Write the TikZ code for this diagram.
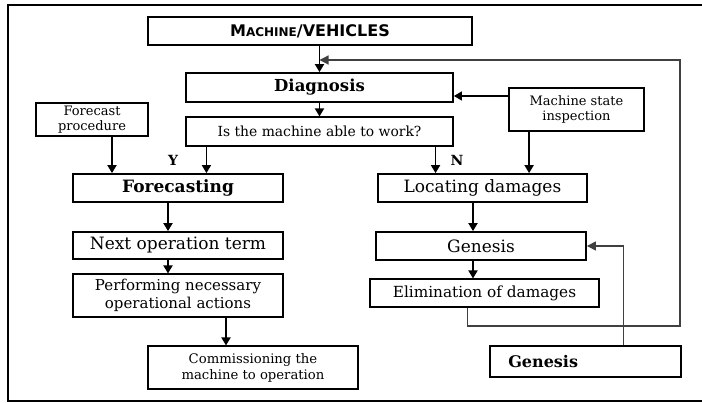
\documentclass[tikz,border=0pt]{standalone}
\usepackage{fontspec}
\setmainfont{DejaVu Serif}
\newfontfamily\titlefont{DejaVu Sans}
\usetikzlibrary{arrows.meta}
\newcommand{\fs}[1]{\fontsize{#1}{#1}\selectfont}
\begin{document}
\begin{tikzpicture}[x=1pt,y=-1pt,
  box/.style={draw,line width=1.8pt,inner sep=0pt,align=center,minimum width=#1},
  lbox/.style={draw,line width=1.1pt,inner sep=0pt,align=center,minimum width=#1},
  arr/.style={line width=1.8pt,-{Triangle[width=9pt,length=8pt]}},
  fb/.style={line width=1.2pt,draw=black!75},
  fbarr/.style={fb,-{Triangle[width=9pt,length=9pt]}},
  yn/.style={font=\fs{14}\bfseries,inner sep=0pt}]
\useasboundingbox (0,0) rectangle (702,403);
% frame
\draw[line width=2.4pt] (702,5) -- (8,5) -- (8,401) -- (702,401);

% boxes
\node[box=324pt,minimum height=28pt,font=\titlefont\bfseries\fs{16}] (mv) at (310,31)
  {M{\fs{12}ACHINE}/VEHICLES};
\node[box=267pt,minimum height=29pt,font=\fs{16.5}\bfseries] (diag) at (319.5,87.5)
  {Diagnosis};
\node[lbox=267pt,minimum height=29pt,font=\fs{13.9}] (able) at (319.5,131.5)
  {Is the machine able to work?};
\node[box=112pt,minimum height=33pt,font=\fs{13},align=center] (fproc) at (92,119.5)
  {Forecast\\[2pt]procedure};
\node[box=135pt,minimum height=43pt,font=\fs{13}] (msi) at (576.5,109.5)
  {Machine state\\[2pt]inspection};
\node[box=210pt,minimum height=28pt,font=\fs{17}\bfseries] (fcast) at (178,188)
  {Forecasting};
\node[box=209pt,minimum height=28pt,font=\fs{17}] (locate) at (482.5,188)
  {Locating damages};
\node[box=210pt,minimum height=27pt,font=\fs{17}] (next) at (178,245.5)
  {Next operation term};
\node[lbox=210pt,minimum height=43pt,font=\fs{15}] (perf) at (178,295.5)
  {Performing necessary\\[3pt]operational actions};
\node[lbox=210pt,minimum height=43pt,font=\fs{13.2}] (comm) at (253,367.5)
  {Commissioning the\\[3pt]machine to operation};
\node[box=210pt,minimum height=28pt,font=\fs{17}] (gen) at (481,246)
  {Genesis};
\node[lbox=229pt,minimum height=28pt,font=\fs{15.3}] (elim) at (484.5,293)
  {Elimination of damages};
\node[box=191pt,minimum height=31pt] (gensrc) at (585.5,361.5) {};
\node[anchor=west,inner sep=0pt,font=\fs{16}\bfseries] (gensrct) at ([xshift=19pt]gensrc.west)
  {Genesis};

% main flow
\draw[arr] (mv.south -| diag.north) -- (diag.north);
\draw[arr] (diag.south) -- (able.north);
\coordinate (ya) at ([xshift=21pt]able.south west);
\draw[arr] (ya) -- (ya |- fcast.north);
\coordinate (fp) at ([xshift=20pt]fproc.south);
\draw[arr] (fp) -- (fp |- fcast.north);
\coordinate (na) at ([xshift=-18pt]able.south east);
\draw[arr] (na) -- (na |- locate.north);
\coordinate (ms) at ([xshift=21pt]msi.south west);
\draw[arr] (ms) -- (ms |- locate.north);
\coordinate (md) at ([yshift=13.5pt]msi.west);
\draw[arr,line width=1.4pt] (md) -- (md -| diag.east);
\node[yn] (ylab) at (173,160) {Y};
\node[yn] (nlab) at (457,160) {N};

\coordinate (fn) at ([xshift=-10pt]fcast.south);
\draw[arr] (fn) -- (fn |- next.north);
\draw[arr] (fn |- next.south) -- (fn |- perf.north);
\coordinate (pc) at ([xshift=48pt]perf.south);
\draw[arr] (pc) -- (pc |- comm.north);

\coordinate (lg) at ([xshift=-9.5pt]locate.south);
\draw[arr] (lg) -- (lg |- gen.north);
\draw[arr] (lg |- gen.south) -- (lg |- elim.north);

% feedback loops
\coordinate (eb) at ([xshift=98pt]elim.south west);
\coordinate (back) at (diag.north |- 0,60);
\draw[fbarr] (eb) -- (eb |- 0,326) -- (680,326) -- (680,60) -- (back);
\coordinate (gs) at ([xshift=134pt]gensrc.north west);
\draw[fbarr] (gs) -- (gs |- gen.east) -- (gen.east);
\end{tikzpicture}
\end{document}
